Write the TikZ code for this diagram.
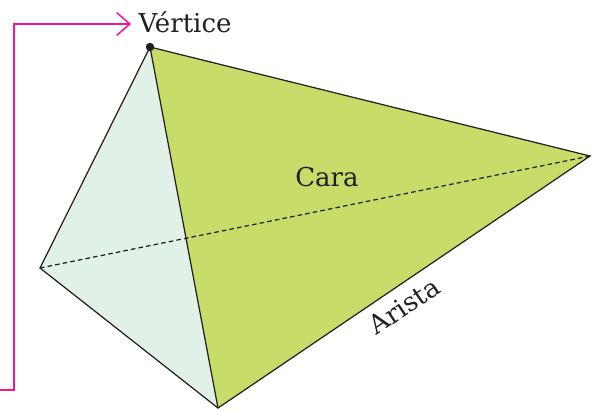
\documentclass[tikz,border=0pt]{standalone}
\usepackage{fontspec}
\usepackage{tikz}
\usepackage{xcolor}
\usetikzlibrary{arrows.meta}
\setmainfont{DejaVu Serif}
\definecolor{Cara_Green}{HTML}{C8DC6A}
\definecolor{Side_Mint}{HTML}{E2F1E7}
\definecolor{Pointer_Pink}{HTML}{F5159B}
\definecolor{Ink_Dark}{HTML}{231F20}
\tikzset{
    edge/.style={Ink_Dark, line width=0.7pt},
    label/.style={Ink_Dark, inner sep=0pt, font=\fontsize{14.8}{17}\selectfont},
}

\begin{document}
\begin{tikzpicture}[x=0.02cm, y=-0.02cm]
    \useasboundingbox (0, 0) rectangle (597, 410);

    % Corners
    \coordinate (apex) at (150, 47);
    \coordinate (right) at (590, 156);
    \coordinate (bottom) at (218, 408);
    \coordinate (left) at (40, 268);

    % Faces
    \fill[Side_Mint] (apex) -- (bottom) -- (left) -- cycle;
    \fill[Cara_Green] (apex) -- (right) -- (bottom) -- cycle;

    % Edges
    \draw[edge] (apex) -- (right) -- (bottom) -- (left) -- cycle;
    \draw[edge] (apex) -- (bottom);
    \draw[edge, dash pattern=on 2.6pt off 1.8pt] (left) -- (right);
    \fill[Ink_Dark] (apex) circle (4.2);

    % Labels
    \node[label] (vertice) at (185, 22) {Vértice};
    \node[label] (cara) at (327, 177) {Cara};
    \node[label, rotate=34] (arista) at (404, 306) {Arista};

    % Pointer
    \coordinate (start) at (0, 390);
    \coordinate (tip) at (131, 24);
    \draw[Pointer_Pink, line width=0.85pt, -{Straight Barb[length=7.5pt, width=13pt]}] (start) -- (14, 390) -- (14, 24) -- (tip);
\end{tikzpicture}
\end{document}
